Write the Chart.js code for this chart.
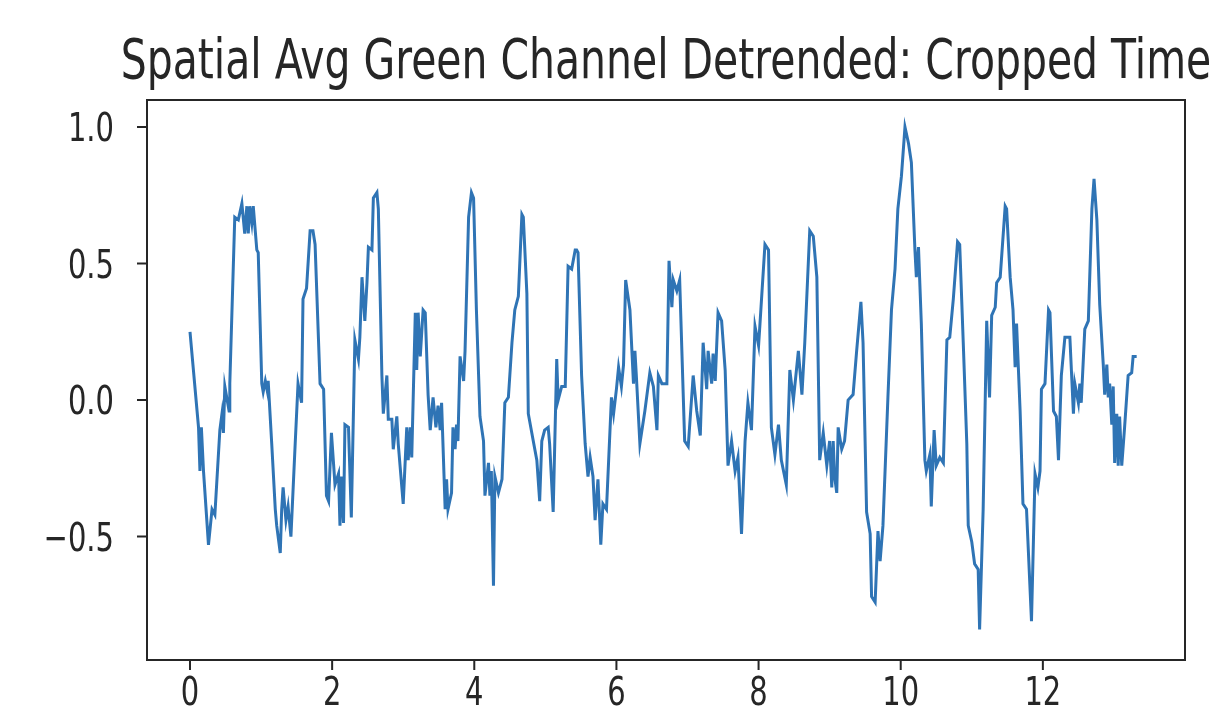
<!DOCTYPE html>
<html>
<head>
<meta charset="utf-8">
<script src="https://cdn.jsdelivr.net/npm/chart.js@4/dist/chart.umd.min.js"></script>
<style>
	body { margin: 0; background: #fff; }
	canvas { display: block; }
</style>
</head>
<body>
<canvas id="myChart" width="1209" height="713"></canvas>
<script>
// Chart text
let chartTitle = 'Spatial Avg Green Channel Detrended: Cropped Time';

// Time (s) and detrended green value
let times = [
	0.00, 0.12, 0.14, 0.16, 0.19, 0.26, 0.31, 0.35, 0.42, 0.45, 0.47, 0.49, 0.55, 0.56, 0.63, 0.68, 0.73, 0.77, 0.80, 0.82,
	0.84, 0.87, 0.89, 0.94, 0.96, 1.01, 1.03, 1.06, 1.09, 1.10, 1.15, 1.20, 1.22, 1.27, 1.29, 1.31, 1.35, 1.38, 1.42, 1.48,
	1.52, 1.57, 1.59, 1.64, 1.69, 1.73, 1.76, 1.83, 1.88, 1.92, 1.95, 1.99, 2.04, 2.09, 2.11, 2.13, 2.16, 2.18, 2.23, 2.27,
	2.32, 2.37, 2.39, 2.42, 2.46, 2.49, 2.51, 2.56, 2.58, 2.63, 2.65, 2.70, 2.72, 2.77, 2.79, 2.84, 2.86, 2.91, 2.93, 3.00,
	3.05, 3.07, 3.10, 3.12, 3.17, 3.19, 3.21, 3.24, 3.28, 3.31, 3.35, 3.38, 3.42, 3.46, 3.49, 3.52, 3.54, 3.59, 3.61, 3.63,
	3.68, 3.70, 3.73, 3.75, 3.77, 3.80, 3.85, 3.87, 3.92, 3.96, 3.99, 4.03, 4.08, 4.13, 4.15, 4.20, 4.22, 4.24, 4.27, 4.29,
	4.34, 4.39, 4.43, 4.48, 4.53, 4.57, 4.62, 4.67, 4.69, 4.74, 4.76, 4.83, 4.88, 4.92, 4.95, 4.99, 5.04, 5.06, 5.11, 5.16,
	5.18, 5.23, 5.28, 5.32, 5.37, 5.42, 5.44, 5.46, 5.51, 5.56, 5.60, 5.63, 5.67, 5.70, 5.74, 5.78, 5.81, 5.86, 5.93, 5.96,
	6.00, 6.03, 6.07, 6.10, 6.13, 6.19, 6.24, 6.26, 6.28, 6.33, 6.40, 6.47, 6.52, 6.57, 6.59, 6.64, 6.71, 6.74, 6.78, 6.80,
	6.85, 6.89, 6.96, 7.01, 7.08, 7.13, 7.18, 7.22, 7.27, 7.29, 7.34, 7.36, 7.39, 7.43, 7.48, 7.53, 7.57, 7.62, 7.67, 7.71,
	7.76, 7.81, 7.85, 7.90, 7.95, 8.00, 8.02, 8.09, 8.14, 8.18, 8.23, 8.28, 8.32, 8.39, 8.44, 8.49, 8.56, 8.61, 8.65, 8.72,
	8.77, 8.82, 8.86, 8.91, 8.96, 9.00, 9.03, 9.05, 9.07, 9.10, 9.12, 9.17, 9.21, 9.26, 9.33, 9.38, 9.44, 9.47, 9.52, 9.57,
	9.59, 9.64, 9.68, 9.71, 9.75, 9.82, 9.87, 9.92, 9.96, 10.01, 10.06, 10.11, 10.15, 10.20, 10.22, 10.25, 10.29, 10.34, 10.36, 10.41,
	10.43, 10.47, 10.50, 10.55, 10.60, 10.65, 10.69, 10.74, 10.80, 10.83, 10.88, 10.93, 10.95, 11.00, 11.04, 11.09, 11.11, 11.16, 11.21, 11.25,
	11.28, 11.33, 11.35, 11.40, 11.47, 11.49, 11.54, 11.58, 11.61, 11.63, 11.68, 11.72, 11.77, 11.84, 11.89, 11.93, 11.96, 11.98, 12.03, 12.08,
	12.10, 12.15, 12.19, 12.22, 12.26, 12.31, 12.38, 12.43, 12.45, 12.50, 12.52, 12.54, 12.59, 12.64, 12.69, 12.72, 12.76, 12.80, 12.85, 12.87,
	12.90, 12.92, 12.94, 12.97, 12.99, 13.01, 13.04, 13.06, 13.08, 13.11, 13.15, 13.20, 13.25, 13.27, 13.32
];
let greenValues = [
	0.25, -0.10, -0.26, -0.10, -0.26, -0.53, -0.40, -0.42, -0.11, -0.05, -0.12, 0.05, -0.04, 0.06, 0.67, 0.66, 0.72, 0.61, 0.71, 0.61,
	0.71, 0.65, 0.71, 0.55, 0.54, 0.06, 0.03, 0.07, 0.03, 0.07, -0.16, -0.40, -0.46, -0.56, -0.40, -0.32, -0.44, -0.39, -0.50, -0.16,
	0.06, -0.01, 0.37, 0.41, 0.62, 0.62, 0.57, 0.06, 0.04, -0.35, -0.37, -0.12, -0.31, -0.27, -0.46, -0.28, -0.45, -0.09, -0.10, -0.43,
	0.22, 0.15, 0.23, 0.45, 0.29, 0.43, 0.56, 0.55, 0.74, 0.76, 0.70, 0.09, -0.05, 0.09, -0.07, -0.07, -0.18, -0.06, -0.16, -0.38,
	-0.10, -0.22, -0.10, -0.21, 0.32, 0.11, 0.32, 0.16, 0.33, 0.32, 0.02, -0.11, 0.01, -0.10, -0.02, -0.11, -0.01, -0.40, -0.29, -0.40,
	-0.34, -0.10, -0.18, -0.09, -0.15, 0.16, 0.07, 0.18, 0.67, 0.76, 0.74, 0.33, -0.06, -0.15, -0.35, -0.23, -0.35, -0.26, -0.68, -0.28,
	-0.34, -0.29, -0.01, 0.01, 0.21, 0.33, 0.38, 0.68, 0.67, 0.39, -0.05, -0.15, -0.22, -0.37, -0.15, -0.11, -0.10, -0.16, -0.41, 0.15,
	0.00, 0.05, 0.05, 0.49, 0.48, 0.55, 0.55, 0.54, 0.09, -0.16, -0.28, -0.21, -0.28, -0.44, -0.29, -0.53, -0.38, -0.40, 0.01, -0.05,
	0.04, 0.12, 0.05, 0.13, 0.44, 0.33, 0.06, 0.18, 0.09, -0.16, -0.04, 0.10, 0.05, -0.11, 0.09, 0.06, 0.06, 0.51, 0.34, 0.44,
	0.40, 0.44, -0.15, -0.17, 0.09, -0.04, -0.13, 0.21, 0.04, 0.18, 0.06, 0.17, 0.07, 0.32, 0.29, 0.11, -0.24, -0.15, -0.26, -0.21,
	-0.49, -0.15, -0.01, -0.11, 0.27, 0.20, 0.28, 0.57, 0.55, -0.10, -0.20, -0.09, -0.22, -0.31, 0.11, 0.00, 0.18, 0.02, 0.21, 0.62,
	0.60, 0.45, -0.22, -0.12, -0.24, -0.15, -0.32, -0.15, -0.28, -0.34, -0.10, -0.18, -0.15, 0.00, 0.02, 0.18, 0.36, 0.21, -0.41, -0.49,
	-0.72, -0.74, -0.48, -0.59, -0.46, 0.01, 0.33, 0.48, 0.70, 0.82, 1.00, 0.94, 0.87, 0.55, 0.45, 0.56, 0.28, -0.22, -0.26, -0.20,
	-0.39, -0.11, -0.24, -0.21, -0.23, 0.22, 0.23, 0.37, 0.58, 0.57, 0.21, -0.16, -0.46, -0.52, -0.60, -0.62, -0.84, -0.40, 0.29, 0.01,
	0.31, 0.34, 0.43, 0.45, 0.71, 0.70, 0.45, 0.33, 0.12, 0.28, -0.04, -0.38, -0.40, -0.81, -0.27, -0.32, -0.26, 0.04, 0.06, 0.33,
	0.32, -0.04, -0.06, -0.22, 0.09, 0.23, 0.23, -0.05, 0.06, -0.01, 0.06, -0.01, 0.26, 0.29, 0.70, 0.81, 0.66, 0.35, 0.13, 0.02,
	0.13, 0.01, 0.06, -0.09, 0.05, -0.23, -0.05, -0.24, -0.06, -0.24, -0.10, 0.09, 0.10, 0.16, 0.16
];

// Axis ticks
let xTicks = [0, 2, 4, 6, 8, 10, 12];
let xTickLabels = ['0', '2', '4', '6', '8', '10', '12'];
let yTicks = [-0.5, 0.0, 0.5, 1.0];
let yTickLabels = ['\u22120.5', '0.0', '0.5', '1.0'];

let points = times.map((t, i) => ({ x: t, y: greenValues[i] }));

// the source picture is stretched vertically, so text is drawn taller than wide
function stretchedText(ctx, text, x, y, align, size, stretch) {
	ctx.save();
	ctx.translate(x, y);
	ctx.scale(1, stretch);
	ctx.font = size + 'px "DejaVu Sans"';
	ctx.textAlign = align;
	ctx.textBaseline = 'alphabetic';
	ctx.fillStyle = '#262626';
	ctx.fillText(text, 0, 0);
	ctx.restore();
}

// frame, ticks, tick labels and title in the matplotlib look
let axesPlugin = {
	id: 'axesLook',
	afterDraw(chart) {
		let ctx = chart.ctx;
		let area = chart.chartArea;
		let xs = chart.scales.x;
		let ys = chart.scales.y;

		ctx.save();
		ctx.strokeStyle = '#262626';
		ctx.lineWidth = 2;
		ctx.strokeRect(area.left, area.top, area.right - area.left, area.bottom - area.top);

		ctx.beginPath();
		xTicks.forEach((v) => {
			let px = xs.getPixelForValue(v);
			ctx.moveTo(px, area.bottom);
			ctx.lineTo(px, area.bottom + 10);
		});
		yTicks.forEach((v) => {
			let py = ys.getPixelForValue(v);
			ctx.moveTo(area.left, py);
			ctx.lineTo(area.left - 10, py);
		});
		ctx.stroke();
		ctx.restore();

		xTicks.forEach((v, i) => {
			stretchedText(ctx, xTickLabels[i], xs.getPixelForValue(v), area.bottom + 45, 'center', 29, 1.36);
		});
		yTicks.forEach((v, i) => {
			stretchedText(ctx, yTickLabels[i], area.left - 33, ys.getPixelForValue(v) + 14, 'right', 29, 1.36);
		});

		// fit the title to the width it has in the picture
		ctx.save();
		ctx.font = '100px "DejaVu Sans"';
		let titleSize = 100 * 1091 / ctx.measureText(chartTitle).width;
		ctx.restore();
		stretchedText(ctx, chartTitle, (area.left + area.right) / 2, 78, 'center', titleSize, 1.33);
	},
};

let ctx = document.getElementById('myChart').getContext('2d');
new Chart(ctx, {
	type: 'line',
	data: {
		datasets: [
			{
				label: chartTitle,
				data: points,
				borderColor: '#2f74b5',
				borderWidth: 3,
				pointRadius: 0,
				tension: 0,
			},
		],
	},
	options: {
		responsive: false,
		animation: false,
		layout: { padding: { left: 147, right: 24, top: 100, bottom: 53 } },
		plugins: { legend: { display: false }, tooltip: { enabled: false } },
		scales: {
			x: { type: 'linear', display: false, min: -0.605, max: 14.0 },
			y: { type: 'linear', display: false, min: -0.952, max: 1.099 },
		},
	},
	plugins: [axesPlugin],
});
</script>
</body>
</html>
